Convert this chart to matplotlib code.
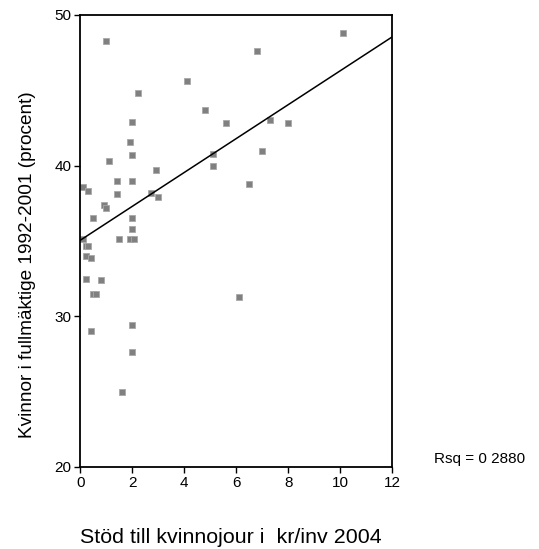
import matplotlib
matplotlib.use('agg')
import matplotlib.pyplot as plt
import numpy as np

plt.rcParams['font.family'] = ['Liberation Sans', 'DejaVu Sans']

# stöd till kvinnojour (kr/inv 2004)
stod = [0.98, 10.1, 6.8, 4.1, 2.2, 4.8, 2.0, 5.6, 7.3, 8.0,
        1.9, 7.0, 5.1, 2.0, 1.1, 5.1, 2.9, 0.1, 0.3, 1.4,
        2.0, 6.5, 1.4, 2.7, 3.0, 0.9, 1.0, 0.5, 2.0, 2.0,
        0.1, 1.5, 1.9, 2.05, 0.2, 0.3, 0.2, 0.4, 0.2, 0.8,
        0.5, 0.6, 6.1, 0.4, 2.0, 2.0, 1.6]
# kvinnor i fullmäktige 1992-2001 (procent)
kvinnor = [48.3, 48.8, 47.6, 45.6, 44.8, 43.7, 42.9, 42.8, 43.0, 42.8,
           41.6, 41.0, 40.8, 40.7, 40.3, 40.0, 39.7, 38.6, 38.3, 39.0,
           39.0, 38.8, 38.1, 38.2, 37.9, 37.4, 37.2, 36.5, 36.5, 35.8,
           35.1, 35.1, 35.1, 35.1, 34.7, 34.7, 34.0, 33.9, 32.5, 32.4,
           31.5, 31.5, 31.3, 29.0, 29.4, 27.6, 25.0]

# regressionslinje (avläst)
fit_intercept = 35.05
fit_slope = 1.125
rsq_text = 'Rsq = 0 2880'

x_ticks = [0, 2, 4, 6, 8, 10, 12]
y_ticks = [20, 30, 40, 50]

fig = plt.figure(figsize=(5.39, 5.49), dpi=100)
ax = fig.add_axes([0.1490, 0.1494, 0.5788, 0.8233])

ax.plot(stod, kvinnor, linestyle='none', marker='s', markersize=4.6,
        markerfacecolor='#808080', markeredgecolor='#a8a8a8', markeredgewidth=0.6)

xl = np.array([0, 12])
ax.plot(xl, fit_intercept + fit_slope * xl, color='black', linewidth=1.1)

ax.set_xlim(0, 12)
ax.set_ylim(20, 50)
ax.set_xticks(x_ticks)
ax.set_yticks(y_ticks)
ax.tick_params(direction='out', length=4.5, width=1.0, labelsize=11, pad=2)
for s in ax.spines.values():
    s.set_linewidth(1.3)

fig.text(230.5 / 539, 1 - 543.3 / 549, 'Stöd till kvinnojour i  kr/inv 2004',
         ha='center', va='baseline', fontsize=15.4)
fig.text(32 / 539, 1 - 265 / 549, 'Kvinnor i fullmäktige 1992-2001 (procent)',
         ha='center', va='baseline', rotation=90, rotation_mode='anchor', fontsize=13.7)
fig.text(480 / 539, 1 - 459 / 549, rsq_text, ha='center', va='center', fontsize=11)

fig.savefig('out.png', dpi=100)
